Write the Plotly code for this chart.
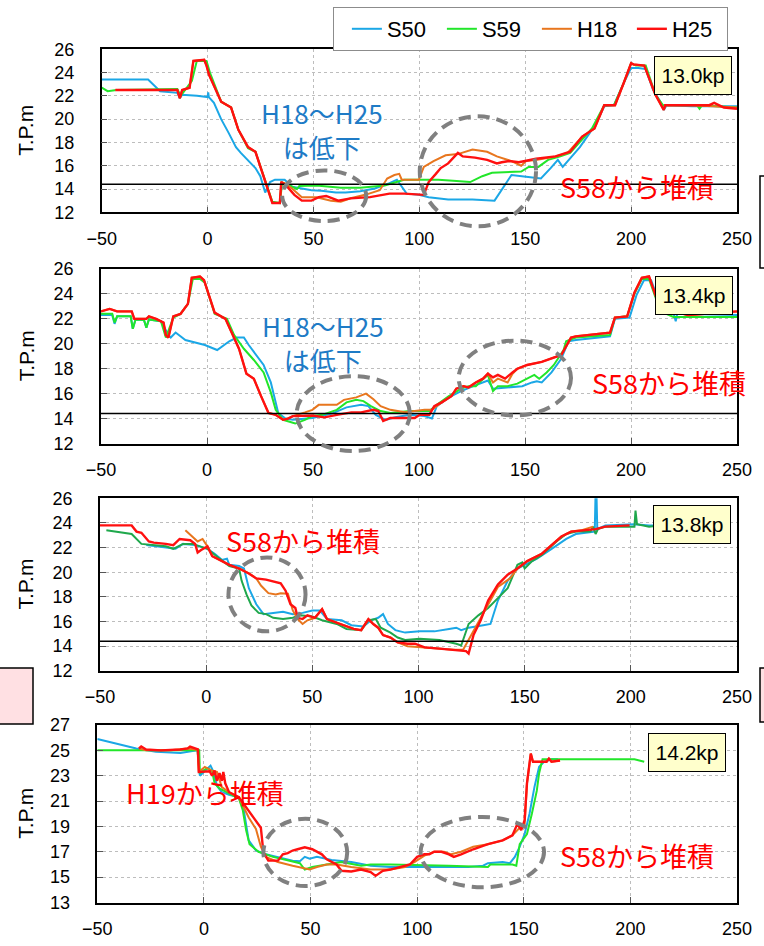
import plotly.graph_objects as go

W, H = 764, 946

SERIES = ["S50", "S59", "H18", "H25"]
X_RANGE = [-50, 250]
X_TICKS = [-50, 0, 50, 100, 150, 200, 250]
Y_RANGES = [[12, 26], [12, 26], [12, 26], [13, 27]]
Y_TICKS = [[12, 14, 16, 18, 20, 22, 24, 26]] * 3 + [[13, 15, 17, 19, 21, 23, 25, 27]]
PANEL_LABELS = ["13.0kp", "13.4kp", "13.8kp", "14.2kp"]
REF_LEVEL = 14.4

# ---------------- 13.0kp ----------------
p1_s50_x = [-50, -28.1, -22.4, -14.3, -13.1, -12, -5, 0, 0.3, 0.6, 3, 6.4, 10, 13.4, 15.7, 19.1, 22.6, 24.9, 27.2, 29.5, 31.8, 36.4, 39.9, 44.5, 49.1, 53.7, 60.6, 65.2, 72.1, 79, 85.9, 89.4, 91.7, 94, 99.8, 104.4, 113.6, 125.1, 135.5, 143.5, 150.4, 157.4, 162, 165.4, 167.7, 171.2, 175.8, 180.4, 183.9, 187.3, 191.9, 196.5, 200, 203.4, 206.9, 210.4, 213.8, 215.4, 216.8, 228.8, 250]
p1_s50_y = [23.4, 23.4, 22.4, 22.26, 21.8, 22.1, 22.0, 21.9, 22.3, 21.9, 21.4, 20.0, 18.8, 17.6, 17.1, 16.5, 15.8, 15.1, 13.7, 14.6, 14.8, 14.8, 14.2, 14.05, 13.9, 13.85, 13.7, 13.7, 13.8, 14.05, 14.5, 14.8, 14.25, 13.6, 13.5, 13.3, 13.1, 13.1, 13.0, 15.2, 15.05, 14.9, 15.8, 16.5, 15.9, 16.6, 17.6, 18.8, 19.8, 21.1, 21.2, 23.1, 24.4, 24.4, 24.3, 22.5, 21.5, 20.8, 21.2, 21.1, 21.1]
p1_s59_x = [-50, -47.2, -43, -22.4, -14.3, -12.7, -10.8, -7.4, -5.1, -0.5, 1.1, 6.4, 11.1, 14.5, 19.1, 22.6, 30.6, 34.1, 35.2, 38.7, 42.2, 43.3, 51.4, 62.9, 72.1, 83.6, 92.8, 99.8, 109, 115.9, 124, 129.7, 134.3, 148.1, 151.6, 156.2, 160.8, 166.6, 171.2, 178.1, 181.5, 187.3, 191.9, 196.5, 200, 202.3, 206.9, 211.5, 215, 231.1, 232.3, 233.5, 250]
p1_s59_y = [22.7, 22.4, 22.5, 22.6, 22.6, 22.0, 22.5, 23.3, 25.0, 25.0, 24.0, 21.5, 21.0, 19.1, 17.5, 17.2, 12.9, 12.8, 14.5, 14.3, 14.0, 14.25, 14.3, 14.1, 14.1, 14.3, 14.8, 14.8, 14.8, 14.7, 14.6, 15.1, 15.4, 15.5, 15.9, 15.9, 16.5, 16.8, 17.1, 18.5, 19.2, 21.2, 21.2, 23.1, 24.8, 24.6, 24.6, 22.1, 21.2, 21.2, 20.9, 21.2, 21.0]
p1_h18_x = [-43.5, -14.3, -13.1, -12, -8.5, -6.7, -1.6, -0.5, 0.7, 6.4, 11.1, 14.5, 19.1, 22.6, 30.6, 34.1, 34.8, 36.4, 39.9, 44.5, 51.4, 58.3, 62.9, 67.5, 74.4, 81.3, 84.8, 88.2, 90.5, 91.7, 99.8, 102.1, 106.7, 112.4, 118.2, 125.1, 132, 136.6, 143.5, 148.1, 150.4, 155.1, 164.3, 170, 176.9, 182.7, 187.3, 192.4, 196.5, 200, 201.1, 206.2, 211.5, 214.5, 215.4, 216.1, 228.8, 250]
p1_h18_y = [22.5, 22.5, 21.8, 22.5, 22.7, 25.0, 25.1, 24.6, 23.8, 21.5, 21.0, 19.1, 17.6, 17.2, 12.8, 12.8, 14.6, 14.5, 14.05, 13.3, 13.3, 13.0, 12.9, 13.2, 13.5, 13.9, 14.9, 15.2, 15.3, 14.8, 14.8, 15.9, 16.4, 16.9, 17.0, 17.4, 17.2, 16.8, 16.4, 16.0, 16.4, 16.5, 16.8, 17.1, 18.5, 19.2, 21.2, 21.2, 23.1, 24.8, 24.7, 24.6, 22.1, 21.1, 20.8, 21.2, 21.2, 21.0]
p1_h25_x = [-43.5, -14.3, -13.1, -12, -8.5, -6.7, -1.6, -0.5, 0.7, 6.4, 11.1, 14.5, 19.1, 22.6, 30.6, 34.1, 34.8, 37.6, 41, 44.5, 49.1, 52.5, 56, 61.7, 67.5, 76.7, 85.9, 92.8, 102.1, 104.4, 107.8, 110.1, 113.6, 118.2, 120.5, 126.3, 132, 136.6, 138.9, 142.4, 147, 155.1, 164.3, 171.2, 176.9, 182.7, 187.3, 192.4, 196.5, 200, 201.1, 206.2, 211.5, 214.5, 215.4, 216.1, 228.8, 232.3, 236.9, 239.2, 241.5, 243.8, 250]
p1_h25_y = [22.5, 22.5, 21.8, 22.5, 22.7, 25.0, 25.1, 24.6, 23.8, 21.5, 21.0, 19.1, 17.6, 17.2, 12.8, 12.8, 14.6, 14.2, 13.5, 13.0, 13.0, 13.3, 13.4, 13.0, 13.2, 13.3, 13.6, 13.6, 13.5, 14.6, 15.3, 15.8, 16.2, 17.1, 16.8, 16.7, 16.5, 16.2, 16.3, 16.4, 16.3, 16.6, 16.8, 17.2, 18.5, 19.2, 21.2, 21.2, 23.1, 24.8, 24.7, 24.6, 22.1, 21.1, 20.8, 21.2, 21.2, 21.2, 21.2, 21.4, 21.2, 21.0, 20.9]

# ---------------- 13.4kp ----------------
p2_s50_x = [-50, -44.7, -43.6, -42.4, -36, -35, -33.7, -29.7, -28.6, -27.4, -21.7, -18.2, -17.1, -14.8, -10.2, -1, 4.8, 10.5, 14, 17.4, 19.7, 24.4, 26.7, 30.1, 32.4, 33.6, 37, 40.5, 49.7, 58.9, 65.8, 72.7, 76.1, 79.6, 84.2, 88.8, 95.7, 102.6, 106.1, 108.4, 114.1, 119.9, 125.6, 132.5, 134.9, 141.8, 148.7, 153.3, 155.6, 157.9, 162.5, 167.1, 170.5, 174, 190.1, 192.4, 199.3, 202.6, 206.1, 209.5, 213.5, 216.9, 220, 221.1, 221.8, 250]
p2_s50_y = [22.3, 22.3, 21.6, 22.2, 22.2, 21.2, 21.95, 21.9, 21.3, 21.95, 21.8, 20.7, 20.5, 20.9, 20.3, 19.9, 19.5, 20.2, 20.5, 20.5, 19.9, 18.8, 18.3, 16.9, 15.3, 14.45, 14.0, 13.9, 14.05, 14.4, 14.9, 15.1, 15.0, 14.3, 13.9, 14.1, 14.3, 14.2, 14.0, 15.0, 15.7, 16.2, 16.6, 17.05, 16.4, 16.5, 16.6, 16.9, 17.0, 16.9, 17.7, 18.8, 20.2, 20.3, 20.6, 22.0, 22.1, 23.9, 25.1, 25.1, 23.2, 22.6, 22.5, 21.8, 22.4, 22.3]
p2_s59_x = [-50, -44.7, -43.6, -42.4, -36, -35, -33.7, -29.7, -28.6, -27.4, -21.7, -19.4, -15.9, -12.5, -9, -6.7, -3.3, -1, 3.6, 9.4, 12.8, 17.4, 22.1, 26.7, 30.1, 32.4, 35.9, 39.3, 41.6, 46.2, 49.7, 54.3, 61.2, 65.8, 70.4, 73.8, 77.3, 81.9, 86.5, 95.7, 104.9, 108.4, 114.1, 119.9, 123.3, 126.8, 129.1, 132.5, 134.9, 137.2, 141.8, 146.4, 151, 154.4, 156.7, 160.2, 163.6, 168.2, 169.4, 174, 190.1, 192.4, 198.2, 201.6, 205.1, 208.5, 212, 215.4, 220, 250]
p2_s59_y = [22.4, 22.4, 21.7, 22.2, 22.2, 21.2, 21.95, 21.9, 21.3, 21.95, 21.8, 20.5, 22.1, 22.4, 23.2, 25.2, 25.2, 24.9, 22.4, 22.0, 20.7, 19.6, 18.7, 17.7, 16.1, 14.7, 13.9, 13.7, 13.6, 13.9, 14.2, 14.3, 14.7, 15.3, 15.5, 15.4, 15.0, 14.6, 14.45, 14.6, 14.6, 15.1, 15.8, 16.4, 16.6, 16.6, 17.0, 17.5, 16.2, 16.6, 16.6, 16.8, 17.2, 17.5, 17.2, 17.7, 18.3, 19.5, 20.2, 20.5, 20.7, 22.1, 22.2, 24.0, 25.2, 25.2, 23.5, 22.5, 22.15, 22.15]
p2_h18_x = [-50, -45.9, -42.4, -35.5, -34.3, -28.6, -27.4, -24, -20.5, -19.4, -18.2, -15.9, -12.5, -9, -7.2, -3.3, -1.4, 3.6, 8.7, 15.1, 18.6, 22.1, 25.5, 29, 32.4, 35.9, 38.2, 40.5, 46.2, 49.7, 52.7, 61.2, 64.6, 70.4, 75, 78.5, 81.9, 86.5, 93.4, 102.6, 106.1, 108.4, 110.7, 115.3, 117.6, 121, 123.3, 126.8, 130.2, 132.5, 134.9, 137.2, 141.8, 144.1, 146.4, 151, 157.9, 167.1, 171.7, 174, 190.1, 192.4, 198.2, 201.6, 205.1, 208.5, 212, 215.4, 222.3, 226.9, 236.1, 250]
p2_h18_y = [22.6, 22.8, 22.6, 22.6, 22.0, 22.0, 22.2, 22.0, 21.7, 20.7, 20.5, 22.2, 22.4, 23.2, 25.3, 25.4, 25.1, 22.5, 22.0, 19.6, 17.6, 17.2, 15.8, 14.45, 14.3, 13.9, 14.0, 14.2, 14.5, 14.7, 15.1, 15.1, 15.5, 15.7, 16.0, 15.55, 15.0, 14.7, 14.5, 14.7, 14.7, 15.0, 15.3, 15.8, 16.4, 16.6, 16.5, 16.9, 17.2, 17.6, 16.9, 17.2, 16.9, 17.6, 18.0, 18.3, 18.55, 19.1, 20.5, 20.6, 20.9, 22.1, 22.2, 24.1, 25.3, 25.4, 23.7, 22.6, 22.5, 22.3, 22.4, 22.6]
p2_h25_x = [-50, -45.9, -42.4, -35.5, -34.3, -28.6, -27.4, -24, -20.5, -19.4, -18.2, -15.9, -12.5, -9, -7.2, -3.3, -1.4, 3.6, 8.7, 15.1, 18.6, 22.1, 25.5, 29, 32.4, 35.9, 38.2, 40.5, 49.7, 55.4, 61.2, 68.1, 72.7, 78.5, 80.8, 83.1, 86.5, 98, 100.3, 104.9, 107.2, 110.7, 115.3, 117.6, 121, 123.3, 126.8, 130.2, 132.5, 134.9, 137.2, 140.6, 144.1, 146.4, 151, 157.9, 167.1, 171.7, 174, 190.1, 192.4, 198.2, 201.6, 205.1, 208.5, 212, 215.4, 222.3, 226.9, 236.1, 250]
p2_h25_y = [22.6, 22.8, 22.6, 22.6, 22.0, 22.0, 22.2, 22.0, 21.7, 20.7, 20.5, 22.2, 22.4, 23.2, 25.3, 25.4, 25.1, 22.5, 22.0, 19.6, 17.6, 17.2, 15.8, 14.45, 14.3, 13.9, 14.0, 14.2, 14.25, 14.1, 14.3, 14.5, 14.5, 14.7, 14.6, 13.8, 14.05, 14.05, 14.3, 14.3, 15.0, 15.3, 15.8, 16.4, 16.6, 16.5, 16.9, 17.2, 17.6, 17.3, 17.5, 17.2, 17.7, 18.0, 18.3, 18.55, 19.1, 20.5, 20.6, 20.9, 22.1, 22.2, 24.1, 25.3, 25.4, 23.7, 22.6, 22.5, 22.3, 22.4, 22.6]

# ---------------- 13.8kp ----------------
p3_s50_x = [-28.2, -19, -14.4, -10.9, -5.2, 0.6, 4, 7.5, 9.8, 10.9, 15.5, 17.8, 20.1, 23.6, 27, 31.6, 36.2, 40.8, 45.4, 50, 53.5, 56.9, 63.8, 68.4, 74.1, 77.6, 81, 83.3, 85.6, 89.1, 93.7, 100.6, 107.5, 114.4, 117.8, 120.1, 123.6, 130.5, 133.9, 137.4, 142, 146.6, 151.2, 155.8, 162.7, 169.6, 174.1, 181, 183, 183.4, 183.8, 184.2, 188, 201.7, 208.6, 213.2]
p3_s50_y = [22.2, 22.0, 21.9, 22.3, 22.2, 21.9, 21.5, 21.0, 21.1, 20.6, 20.5, 20.3, 18.7, 17.4, 16.6, 16.7, 16.8, 16.6, 16.7, 16.9, 16.9, 16.2, 16.1, 15.7, 15.6, 16.1, 16.3, 16.6, 15.8, 15.3, 15.1, 15.2, 15.2, 15.4, 15.5, 15.3, 15.5, 15.7, 15.8, 17.7, 19.3, 20.3, 20.7, 21.1, 21.9, 22.7, 23.1, 23.3, 23.3, 26.5, 26.5, 23.5, 23.8, 23.9, 23.8, 23.8]
p3_s59_x = [-47, -35.1, -30.5, -25.9, -19, -15.5, -10.9, -6.3, -2.9, 0.6, 6.3, 10.9, 15.5, 16.7, 19, 21.3, 24.7, 28.2, 31.6, 36.2, 40.8, 44.3, 50, 54.6, 61.5, 66.1, 73, 76.4, 79.9, 82.2, 86.8, 90.2, 93.7, 100.6, 109.8, 117.8, 120.1, 123.6, 128.2, 132.8, 137.4, 142, 146.6, 148.9, 150, 153.5, 158.1, 165, 169.6, 174.1, 181, 182.2, 183.4, 184.5, 188, 201.7, 202.2, 202.9, 208.6, 213.2]
p3_s59_y = [23.4, 23.1, 22.3, 22.2, 22.1, 21.9, 22.3, 22.3, 22.1, 21.9, 21.1, 20.5, 20.3, 19.3, 18.2, 17.3, 16.7, 16.6, 16.3, 16.2, 16.3, 16.5, 16.4, 16.1, 15.8, 15.4, 15.3, 16.1, 16.2, 15.5, 15.1, 14.7, 14.5, 14.6, 14.5, 14.2, 14.05, 15.8, 16.5, 17.1, 17.9, 18.7, 20.6, 20.8, 20.3, 20.9, 21.4, 22.5, 23.1, 23.3, 23.3, 23.7, 23.1, 23.5, 23.7, 23.7, 25.0, 23.9, 23.7, 23.8]
p3_h18_x = [-9.8, -5.2, -4, -1.7, 0.6, 2.9, 7.5, 10.9, 15.5, 20.1, 23.6, 25.9, 29.3, 32.8, 35.1, 38.5, 40.8, 43.1, 45.4, 47.7, 51.2, 54.6, 56.9, 61.5, 66.1, 69.5, 73, 76.4, 78.7, 81, 83.3, 86.8, 90.2, 94.8, 102.9, 109.8, 116.7, 121, 123.6, 127, 130.5, 132.8, 137.4, 143.1, 146.6, 151.2, 158.1, 162.7, 167.3, 171.9, 176.5, 182.2]
p3_h18_y = [23.4, 22.7, 22.5, 22.7, 22.1, 21.3, 20.9, 20.6, 20.3, 19.9, 19.5, 18.9, 18.3, 18.2, 18.3, 18.25, 16.9, 16.2, 15.8, 16.1, 16.3, 17.0, 16.2, 15.9, 15.6, 15.4, 15.3, 16.2, 15.8, 15.5, 14.9, 14.7, 14.3, 14.0, 13.9, 13.8, 13.7, 13.7, 14.5, 15.5, 16.6, 17.4, 18.8, 19.5, 20.3, 20.9, 21.5, 22.2, 22.9, 23.3, 23.4, 23.7]
p3_h25_x = [-50, -35.1, -32.8, -30.5, -27, -24.7, -19, -15.5, -12.5, -7.5, -5.2, -4, -2.4, 0.6, 2.9, 7.5, 10.9, 15.5, 20.1, 23.6, 28.2, 35.1, 37.4, 39.7, 42, 43.1, 45.4, 47.7, 51.2, 54.6, 56.9, 61.5, 66.1, 69.5, 73, 76.4, 78.7, 81, 83.3, 86.8, 90.2, 94.8, 98.3, 102.9, 109.8, 116.7, 122.4, 123.6, 125.9, 129.3, 132.8, 137.4, 142, 146.6, 151.2, 158.1, 162.7, 167.3, 171.9, 176.5, 183.4, 188, 199.4]
p3_h25_y = [23.8, 23.8, 23.3, 23.2, 22.5, 22.4, 22.3, 22.2, 22.7, 22.6, 22.3, 21.6, 21.8, 22.1, 21.3, 20.9, 20.6, 20.3, 19.9, 19.5, 19.4, 19.1, 18.5, 17.4, 17.1, 16.3, 16.2, 16.5, 16.3, 17.0, 16.2, 15.9, 15.6, 15.4, 15.3, 16.2, 15.8, 15.5, 14.9, 14.7, 14.3, 14.2, 14.2, 13.9, 13.8, 13.7, 13.6, 13.4, 14.9, 16.1, 17.7, 19.0, 19.8, 20.3, 20.9, 21.5, 22.2, 22.9, 23.3, 23.4, 23.5, 23.7, 23.8]

# ---------------- 14.2kp ----------------
p4_s50_x = [-50, -40.8, -31.7, -22.5, -11, -5.3, -3, -1.9, 0.4, 3.1, 4.5, 6.1, 8.4, 11.8, 16.4, 18.7, 21, 24.4, 29, 34.7, 41.6, 45, 47.3, 49.6, 53, 59.9, 69.1, 78.2, 87.4, 98.9, 110.3, 124, 130.9, 133.2, 140.1, 143.5, 145.8, 148.1, 150.4, 152.7, 155, 157.2, 159.5, 163, 166]
p4_s50_y = [25.9, 25.5, 25.15, 24.9, 24.8, 24.95, 25.0, 23.0, 23.4, 23.8, 23.3, 22.2, 21.7, 21.5, 21.3, 20.3, 17.9, 17.1, 16.8, 16.6, 16.3, 16.25, 16.6, 16.45, 16.6, 16.35, 16.2, 15.9, 15.8, 15.8, 15.8, 15.8, 15.9, 16.1, 16.2, 16.1, 16.6, 17.4, 18.4, 20.0, 22.1, 23.7, 24.1, 24.3, 24.3]
p4_s59_x = [-50, -4.2, -2.2, -1.9, 1.5, 3.8, 5, 7.3, 11.8, 16.4, 18.2, 19.8, 21.4, 25.6, 32.4, 39.3, 45, 47.3, 50.8, 57.6, 64.5, 73.7, 78.2, 87.4, 101.1, 114.9, 133.2, 134.3, 144.7, 146.5, 148.1, 151.5, 153.8, 156.1, 157.2, 158.8, 201.9, 206.5]
p4_s59_y = [25.0, 25.0, 25.0, 23.2, 23.6, 23.4, 22.4, 22.0, 21.6, 21.2, 20.3, 18.7, 17.6, 17.0, 16.6, 16.3, 16.1, 15.6, 15.8, 16.0, 16.2, 15.9, 16.0, 16.0, 15.98, 15.9, 15.8, 16.0, 16.0, 15.9, 17.6, 18.4, 20.0, 21.8, 23.2, 24.3, 24.3, 24.1]
p4_h18_x = [-30.5, -27.1, -15.7, -7.6, -3, -2.4, 0.4, 3.8, 6.1, 8.4, 11.8, 16.4, 18.7, 21, 24.4, 26.7, 29, 34.7, 41.6, 49.6, 53, 57.6, 62.2, 69.1, 78.2, 87.4, 94.3, 98.9, 103.4, 108, 112.6, 116, 120.6, 126.3, 133.2, 140.1, 144.7, 148.1, 150.4, 151.5, 153.3, 154.3, 160.7, 161.8, 163, 167]
p4_h18_y = [25.15, 25.0, 25.0, 25.15, 25.05, 23.3, 23.7, 23.4, 23.3, 22.1, 21.7, 21.3, 20.5, 19.7, 18.8, 17.4, 16.6, 16.2, 15.9, 15.6, 15.8, 16.0, 16.0, 15.8, 15.6, 15.6, 15.8, 16.2, 16.7, 17.0, 17.0, 16.8, 17.0, 17.4, 17.6, 17.9, 18.3, 18.9, 19.1, 22.4, 24.75, 24.1, 24.1, 24.35, 24.1, 24.2]
p4_h25_x = [-30.5, -29.4, -27.1, -20.2, -11.1, -7.6, -6.5, -4.2, -2.8, -2.4, 2.7, 3.8, 5, 6.1, 7.3, 8.4, 9.1, 10, 11.8, 16.4, 19.8, 23.3, 26.7, 27.9, 30.2, 34.7, 37, 39.3, 41.6, 43.9, 47.3, 50.8, 55.3, 57.6, 62.2, 64.5, 69.1, 73.7, 78.2, 80.5, 83.9, 87.4, 92, 96.6, 98.9, 100, 103.4, 105.7, 108, 111.4, 114.9, 117.2, 120.6, 126.3, 133.2, 140.1, 144.7, 147, 148.8, 150.4, 151.5, 153.3, 154.3, 160.7, 161.8, 163, 167]
p4_h25_y = [25.15, 25.3, 25.07, 25.0, 25.07, 25.15, 25.3, 25.15, 25.07, 23.3, 23.35, 23.0, 23.4, 22.6, 23.2, 22.6, 23.3, 22.4, 21.7, 21.3, 20.5, 19.7, 18.9, 16.96, 16.3, 16.3, 16.8, 16.9, 17.1, 17.2, 17.35, 17.2, 16.8, 16.4, 16.0, 15.5, 15.45, 15.6, 15.4, 15.1, 15.5, 15.6, 15.8, 16.0, 16.4, 16.6, 16.8, 16.8, 17.0, 17.0, 16.8, 16.6, 16.8, 17.2, 17.6, 17.9, 18.3, 19.2, 18.7, 19.5, 22.4, 24.75, 24.1, 24.1, 24.35, 24.1, 24.2]

PANEL_DATA = [
    [(p1_s50_x, p1_s50_y), (p1_s59_x, p1_s59_y), (p1_h18_x, p1_h18_y), (p1_h25_x, p1_h25_y)],
    [(p2_s50_x, p2_s50_y), (p2_s59_x, p2_s59_y), (p2_h18_x, p2_h18_y), (p2_h25_x, p2_h25_y)],
    [(p3_s50_x, p3_s50_y), (p3_s59_x, p3_s59_y), (p3_h18_x, p3_h18_y), (p3_h25_x, p3_h25_y)],
    [(p4_s50_x, p4_s50_y), (p4_s59_x, p4_s59_y), (p4_h18_x, p4_h18_y), (p4_h25_x, p4_h25_y)],
]

COLORS = {"S50": "#1BA7E6", "S59": "#22E62A", "H18": "#E8761E", "H25": "#FF1010"}
S59_PANEL_COLORS = ["#22E62A", "#22E62A", "#1FA84C", "#22E62A"]

# annotation content (data coordinates)
BLUE_NOTES = [(0, 54, 19.1, "H18～H25<br>は低下"), (1, 54.5, 20.1, "H18～H25<br>は低下")]
RED_NOTES = [(0, 203, 14.2, "S58から堆積"), (1, 218, 16.9, "S58から堆積"),
             (2, 45.5, 22.6, "S58から堆積"), (3, 0.5, 21.7, "H19から堆積"),
             (3, 203, 16.7, "S58から堆積")]
ELLIPSES = [(0, 35.2, 74.9, 11.25, 15.6), (0, 100.2, 155.1, 10.8, 20.25),
            (1, 42.3, 95.7, 11.4, 17.4), (1, 118.7, 171.7, 14.25, 20.25),
            (2, 10.5, 46.8, 15.2, 21.2),
            (3, 27.9, 67.2, 14.3, 19.6), (3, 101.6, 159.5, 14.2, 19.75)]

# ---------------- layout geometry (pixels) ----------------
BOXES = [(101.7, 737, 49.3, 212.3), (101, 737, 269, 443.5),
         (100, 737, 498.3, 670.8), (97.3, 737, 725, 902.5)]
LABEL_CENTERS = [(693, 75), (693.5, 295), (692, 524), (687, 752)]


def px2paper(px, py):
    return px / W, 1 - py / H


def data2paper(i, x, y):
    l, r, t, b = BOXES[i]
    y0, y1 = Y_RANGES[i]
    px = l + (x - X_RANGE[0]) / (X_RANGE[1] - X_RANGE[0]) * (r - l)
    py = b - (y - y0) / (y1 - y0) * (b - t)
    return px2paper(px, py)


fig = go.Figure()
layout = dict(width=W, height=H, margin=dict(l=0, r=0, t=0, b=0, autoexpand=False),
              paper_bgcolor="white", plot_bgcolor="white",
              font=dict(family="Liberation Sans, Arial, sans-serif", color="black"))

for i in range(4):
    sfx = "" if i == 0 else str(i + 1)
    l, r, t, b = BOXES[i]
    xd = [l / W, r / W]
    yd = [1 - b / H, 1 - t / H]
    axstyle = dict(showline=True, mirror=True, linecolor="black", linewidth=1.5,
                   showgrid=True, gridcolor="#BDBDBD", griddash="dot", gridwidth=1,
                   ticks="inside", ticklen=6, tickcolor="#555", zeroline=False,
                   automargin=False,
                   tickfont=dict(size=18, family="Liberation Sans, Arial, sans-serif", color="black"))
    layout["xaxis" + sfx] = dict(domain=xd, range=X_RANGE, tickvals=X_TICKS,
                                 anchor="y" + sfx, ticklabelstandoff=9, **axstyle)
    layout["yaxis" + sfx] = dict(domain=yd, range=Y_RANGES[i], tickvals=Y_TICKS[i],
                                 anchor="x" + sfx, ticklabelstandoff=22, **axstyle)
    for name, (xs, ys) in zip(SERIES, PANEL_DATA[i]):
        col = S59_PANEL_COLORS[i] if name == "S59" else COLORS[name]
        fig.add_trace(go.Scatter(x=xs, y=ys, mode="lines", name=name,
                                 line=dict(color=col, width=2.4 if name == "H25" else 2),
                                 showlegend=(i == 0), legendgroup=name,
                                 xaxis="x" + sfx, yaxis="y" + sfx, cliponaxis=True))

shapes = []
annotations = []
for i in range(4):
    sfx = "" if i == 0 else str(i + 1)
    if i < 3:
        shapes.append(dict(type="line", xref="x" + sfx + " domain", x0=0, x1=1,
                           yref="y" + sfx, y0=REF_LEVEL, y1=REF_LEVEL,
                           line=dict(color="black", width=1.5)))
    l, r, t, b = BOXES[i]
    annotations.append(dict(text="T.P.m", xref="paper", yref="paper",
                            x=26 / W, y=1 - (t + b) / 2 / H, textangle=-90,
                            showarrow=False, xanchor="center", yanchor="middle",
                            font=dict(size=21, family="Liberation Sans, Arial, sans-serif")))
    cx, cy = px2paper(*LABEL_CENTERS[i])
    annotations.append(dict(text=PANEL_LABELS[i], xref="paper", yref="paper", x=cx, y=cy,
                            xanchor="center", yanchor="middle",
                            showarrow=False, bgcolor="#FFFFCC", bordercolor="black",
                            borderwidth=1, borderpad=3, width=70, height=31,
                            font=dict(size=21, family="Liberation Sans, Arial, sans-serif")))

for (i, x0, x1, y0, y1) in ELLIPSES:
    px0, py0 = data2paper(i, x0, y0)
    px1, py1 = data2paper(i, x1, y1)
    shapes.append(dict(type="circle", xref="paper", yref="paper", x0=px0, x1=px1,
                       y0=py0, y1=py1, line=dict(color="#808080", width=4, dash="12px,7px")))

for (i, x, y, txt) in BLUE_NOTES:
    sfx = "" if i == 0 else str(i + 1)
    annotations.append(dict(text=txt, xref="x" + sfx, yref="y" + sfx, x=x, y=y,
                            showarrow=False, font=dict(size=26, color="#1E7BC6",
                                                       family="Noto Sans CJK JP")))
for (i, x, y, txt) in RED_NOTES:
    sfx = "" if i == 0 else str(i + 1)
    annotations.append(dict(text=txt, xref="x" + sfx, yref="y" + sfx, x=x, y=y,
                            showarrow=False, font=dict(size=27, color="#FF0000",
                                                       family="Noto Sans CJK JP")))

# stray cropped boxes at the picture edges
for (x0, y0, x1, y1, fill) in [(-20, 668, 33, 724, "#FFE0E3"),
                               (760, 176, 800, 268, "white"),
                               (760, 668, 800, 722, "#FFE0E3")]:
    a0, b0 = px2paper(x0, y0)
    a1, b1 = px2paper(x1, y1)
    shapes.append(dict(type="rect", xref="paper", yref="paper", x0=a0, x1=a1, y0=b0, y1=b1,
                       fillcolor=fill, line=dict(color="black", width=1.5), layer="below"))

layout["shapes"] = shapes
layout["annotations"] = annotations
lx, ly = px2paper(333, 7)
layout["legend"] = dict(orientation="h", x=lx, y=ly, xanchor="left", yanchor="top",
                        bgcolor="white", bordercolor="#8C8C8C", borderwidth=1,
                        font=dict(size=22, family="Liberation Sans, Arial, sans-serif"),
                        title=dict(text="\u00a0", side="left",
                                   font=dict(size=14, family="Liberation Sans, Arial, sans-serif")),
                        entrywidth=50, itemwidth=30, tracegroupgap=0)
fig.update_layout(**layout)
fig.write_html("out.html", config={"displayModeBar": False},
               post_script="document.body.style.margin='0px';")
